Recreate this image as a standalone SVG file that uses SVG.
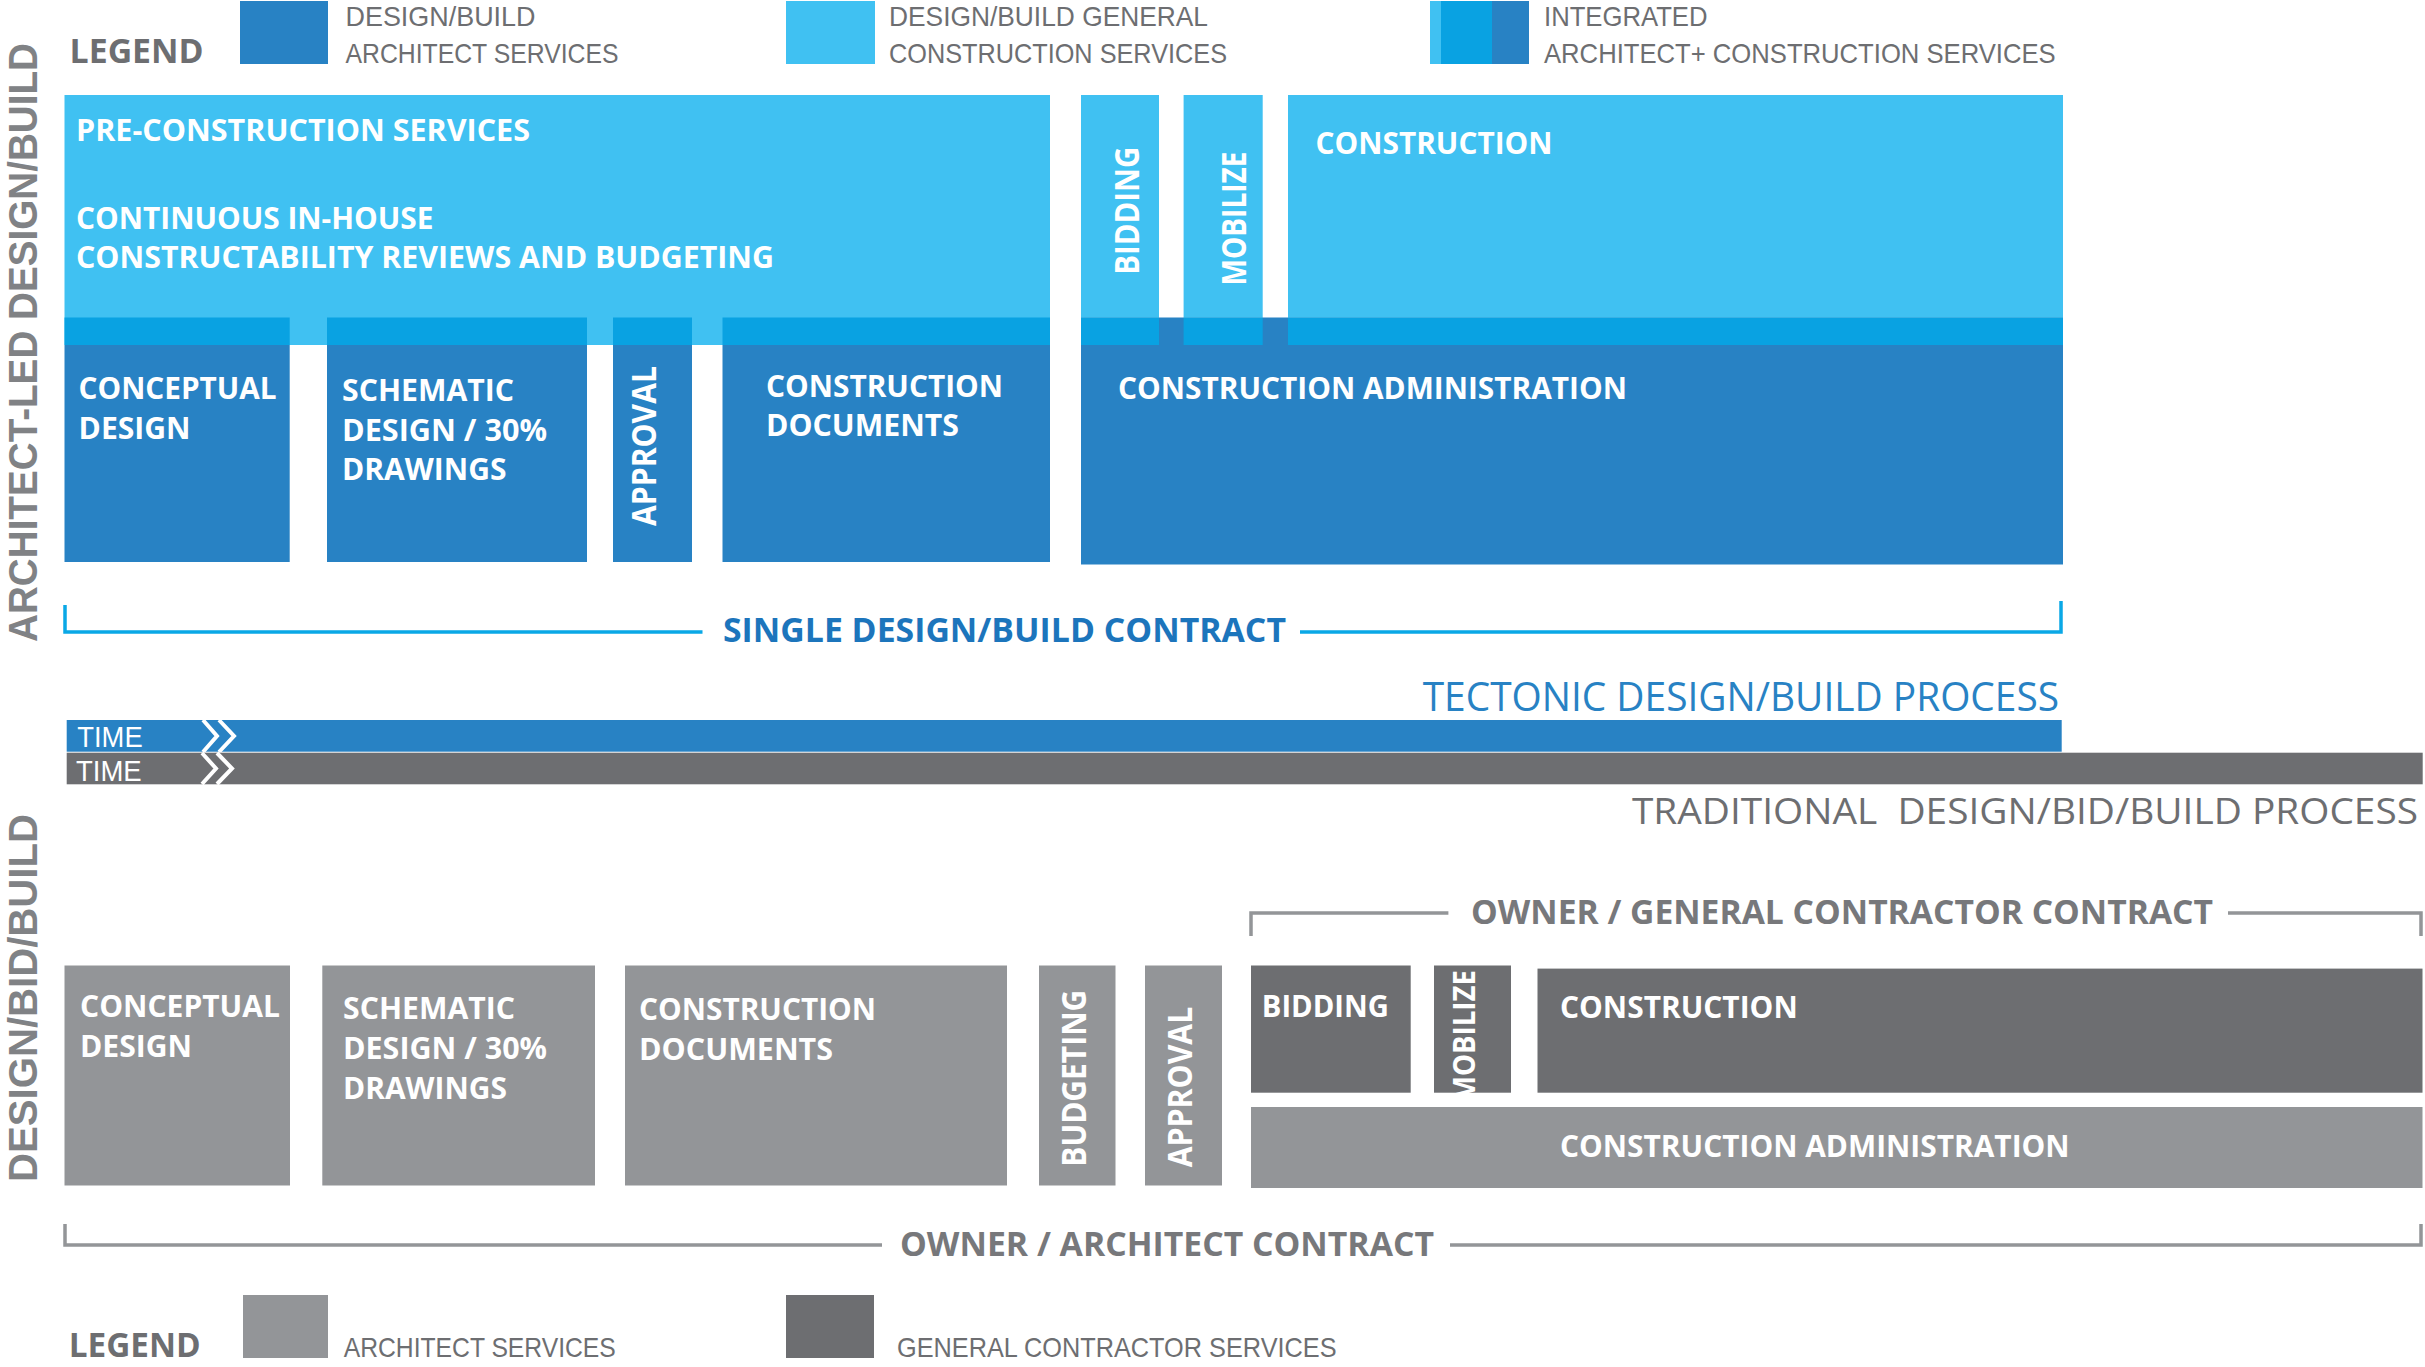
<svg xmlns="http://www.w3.org/2000/svg" width="2425" height="1367" viewBox="0 0 2425 1367">
<style>
text{font-family:"Open Sans","Liberation Sans",Arial,sans-serif}
.w{fill:#fff;font-weight:700;font-size:30.5px}
.v{fill:#fff;font-weight:700;font-size:34px}
.lg{font-family:"Liberation Sans",Arial,sans-serif;fill:#6d6e71;font-weight:400;font-size:28px}
.lgh{fill:#6d6e71;font-weight:700;font-size:33.5px}
.side{font-family:"Liberation Sans",Arial,sans-serif;fill:#808285;font-weight:700;font-size:40px}
.tm{font-family:"Liberation Sans",Arial,sans-serif;fill:#fff;font-weight:400;font-size:30px}
.ct{fill:#77787b;font-weight:700;font-size:34px}
.lt{fill:#40c1f2}.md{fill:#09a2e2}.dk{fill:#2882c4}.ga{fill:#939598}.gc{fill:#6d6e71}
.br{fill:none;stroke-width:3.5}
.chev{fill:none;stroke:#fff;stroke-width:4}
</style>
<defs>
<clipPath id="clipMob"><rect x="1434" y="965" width="77" height="128"/></clipPath>
</defs>

<g id="legend-top">
<text class="lgh" x="69.6" y="63" textLength="134" lengthAdjust="spacingAndGlyphs">LEGEND</text>
<rect class="dk" x="240" y="1" width="88" height="63"/>
<text class="lg" x="345.5" y="26" textLength="190" lengthAdjust="spacingAndGlyphs">DESIGN/BUILD</text>
<text class="lg" x="345.5" y="63.3" textLength="273" lengthAdjust="spacingAndGlyphs">ARCHITECT SERVICES</text>
<rect class="lt" x="786" y="1" width="89" height="63"/>
<text class="lg" x="889" y="26" textLength="319" lengthAdjust="spacingAndGlyphs">DESIGN/BUILD GENERAL</text>
<text class="lg" x="889" y="63.3" textLength="338" lengthAdjust="spacingAndGlyphs">CONSTRUCTION SERVICES</text>
<rect class="lt" x="1430" y="1" width="11" height="63"/>
<rect class="md" x="1441" y="1" width="51" height="63"/>
<rect class="dk" x="1492" y="1" width="37" height="63"/>
<text class="lg" x="1544" y="26" textLength="163.5" lengthAdjust="spacingAndGlyphs">INTEGRATED</text>
<text class="lg" x="1544" y="63.3" textLength="511.7" lengthAdjust="spacingAndGlyphs">ARCHITECT+ CONSTRUCTION SERVICES</text>
</g>

<g id="side-labels">
<text class="side" transform="translate(36.5,642) rotate(-90)" textLength="599" lengthAdjust="spacingAndGlyphs">ARCHITECT-LED DESIGN/BUILD</text>
<text class="side" transform="translate(36.7,1182) rotate(-90)" textLength="368" lengthAdjust="spacingAndGlyphs">DESIGN/BID/BUILD</text>
</g>

<g id="pre-construction">
<rect class="lt" x="64.5" y="95" width="985.5" height="250"/>
<text class="w" x="76" y="141" textLength="454" lengthAdjust="spacingAndGlyphs">PRE-CONSTRUCTION SERVICES</text>
<text class="w" x="76" y="228.5" textLength="357.5" lengthAdjust="spacingAndGlyphs">CONTINUOUS IN-HOUSE</text>
<text class="w" x="76" y="268" textLength="698" lengthAdjust="spacingAndGlyphs">CONSTRUCTABILITY REVIEWS AND BUDGETING</text>
</g>

<g id="db-conceptual-design">
<rect class="md" x="64.5" y="317.5" width="225.2" height="27.5"/>
<rect class="dk" x="64.5" y="345" width="225.2" height="217"/>
<text class="w" x="78.6" y="398.6" textLength="198" lengthAdjust="spacingAndGlyphs">CONCEPTUAL</text>
<text class="w" x="78.6" y="439" textLength="112" lengthAdjust="spacingAndGlyphs">DESIGN</text>
</g>

<g id="db-schematic-design">
<rect class="md" x="327" y="317.5" width="260" height="27.5"/>
<rect class="dk" x="327" y="345" width="260" height="217"/>
<text class="w" x="342" y="400.5" textLength="172" lengthAdjust="spacingAndGlyphs">SCHEMATIC</text>
<text class="w" x="342" y="441" textLength="205" lengthAdjust="spacingAndGlyphs">DESIGN / 30%</text>
<text class="w" x="342" y="480.4" textLength="164.5" lengthAdjust="spacingAndGlyphs">DRAWINGS</text>
</g>

<g id="db-approval">
<rect class="md" x="613" y="317.5" width="79" height="27.5"/>
<rect class="dk" x="613" y="345" width="79" height="217"/>
<text class="v" transform="translate(656,526) rotate(-90)" textLength="160" lengthAdjust="spacingAndGlyphs">APPROVAL</text>
</g>

<g id="db-construction-documents">
<rect class="md" x="722.5" y="317.5" width="327.5" height="27.5"/>
<rect class="dk" x="722.5" y="345" width="327.5" height="217"/>
<text class="w" x="766" y="396.6" textLength="237" lengthAdjust="spacingAndGlyphs">CONSTRUCTION</text>
<text class="w" x="766" y="436" textLength="193" lengthAdjust="spacingAndGlyphs">DOCUMENTS</text>
</g>

<g id="db-construction-administration">
<rect class="dk" x="1081" y="317.5" width="982" height="247"/>
<text class="w" x="1118" y="398.6" textLength="509" lengthAdjust="spacingAndGlyphs">CONSTRUCTION ADMINISTRATION</text>
</g>

<g id="db-bidding">
<rect class="lt" x="1081" y="95" width="78" height="222.5"/>
<rect class="md" x="1081" y="317.5" width="78" height="27.5"/>
<text class="v" transform="translate(1139,274.8) rotate(-90)" textLength="128" lengthAdjust="spacingAndGlyphs">BIDDING</text>
</g>

<g id="db-mobilize">
<rect class="lt" x="1183.6" y="95" width="79.1" height="222.5"/>
<rect class="md" x="1183.6" y="317.5" width="79.1" height="27.5"/>
<text class="v" transform="translate(1245.5,285.5) rotate(-90)" textLength="134" lengthAdjust="spacingAndGlyphs">MOBILIZE</text>
</g>

<g id="db-construction">
<rect class="lt" x="1288" y="95" width="775" height="222.5"/>
<rect class="md" x="1288" y="317.5" width="775" height="27.5"/>
<text class="w" x="1315.5" y="154" textLength="237" lengthAdjust="spacingAndGlyphs">CONSTRUCTION</text>
</g>

<g id="connectors">
<path class="br" stroke="#0aa8e6" d="M65,605 V632 H702.5 M1300,632 H2061 V601"/>
<path class="br" stroke="#939598" d="M1251,936 V913 H1448.4 M2228,913 H2421 V936"/>
<path class="br" stroke="#939598" d="M65,1224 V1245 H882 M1450,1245 H2421 V1224"/>
</g>

<g id="single-contract-label">
<text x="723" y="642" style="fill:#1c75bc;font-weight:700;font-size:34px" textLength="563" lengthAdjust="spacingAndGlyphs">SINGLE DESIGN/BUILD CONTRACT</text>
</g>

<g id="tectonic-time">
<text x="1422.7" y="711" style="fill:#2882c4;font-weight:400;font-size:40px" textLength="636.3" lengthAdjust="spacingAndGlyphs">TECTONIC DESIGN/BUILD PROCESS</text>
<rect class="dk" x="66.7" y="720" width="1995" height="31.7"/>
<text class="tm" x="77.3" y="746.7" textLength="65.4" lengthAdjust="spacingAndGlyphs">TIME</text>
<path class="chev" d="M203,720 L217,736 L203,752 M219,720 L234,736 L219,752"/>
</g>

<g id="traditional-time">
<rect class="gc" x="66.7" y="752.7" width="2356" height="31.6"/>
<text class="tm" x="76" y="781" textLength="65.7" lengthAdjust="spacingAndGlyphs">TIME</text>
<path class="chev" d="M202,753 L216,768.5 L202,784 M217,753 L232,768.5 L217,784"/>
<text x="1632" y="823.5" xml:space="preserve" style="fill:#6d6e71;font-weight:400;font-size:37px" textLength="786" lengthAdjust="spacingAndGlyphs">TRADITIONAL  DESIGN/BID/BUILD PROCESS</text>
</g>

<g id="gc-contract-label">
<text class="ct" x="1471" y="924" textLength="742" lengthAdjust="spacingAndGlyphs">OWNER / GENERAL CONTRACTOR CONTRACT</text>
</g>

<g id="dbb-conceptual-design">
<rect class="ga" x="64.5" y="965.5" width="225.5" height="220"/>
<text class="w" x="80" y="1017.3" textLength="200" lengthAdjust="spacingAndGlyphs">CONCEPTUAL</text>
<text class="w" x="80" y="1057.3" textLength="112" lengthAdjust="spacingAndGlyphs">DESIGN</text>
</g>

<g id="dbb-schematic-design">
<rect class="ga" x="322.3" y="965.5" width="272.7" height="220"/>
<text class="w" x="343" y="1019.3" textLength="172" lengthAdjust="spacingAndGlyphs">SCHEMATIC</text>
<text class="w" x="343" y="1059" textLength="204" lengthAdjust="spacingAndGlyphs">DESIGN / 30%</text>
<text class="w" x="343" y="1099" textLength="164" lengthAdjust="spacingAndGlyphs">DRAWINGS</text>
</g>

<g id="dbb-construction-documents">
<rect class="ga" x="625" y="965.5" width="382" height="220"/>
<text class="w" x="639" y="1019.6" textLength="237" lengthAdjust="spacingAndGlyphs">CONSTRUCTION</text>
<text class="w" x="639" y="1060" textLength="194" lengthAdjust="spacingAndGlyphs">DOCUMENTS</text>
</g>

<g id="dbb-budgeting">
<rect class="ga" x="1039" y="965.5" width="76.5" height="220"/>
<text class="v" transform="translate(1085.7,1166.7) rotate(-90)" textLength="177" lengthAdjust="spacingAndGlyphs">BUDGETING</text>
</g>

<g id="dbb-approval">
<rect class="ga" x="1145" y="965.5" width="77" height="220"/>
<text class="v" transform="translate(1192,1167.3) rotate(-90)" textLength="160.6" lengthAdjust="spacingAndGlyphs">APPROVAL</text>
</g>

<g id="dbb-bidding">
<rect class="gc" x="1251" y="965.5" width="159.7" height="127.2"/>
<text class="w" x="1261.8" y="1017.3" textLength="127" lengthAdjust="spacingAndGlyphs">BIDDING</text>
</g>

<g id="dbb-mobilize">
<rect class="gc" x="1434" y="965.5" width="77" height="127.2"/>
<g clip-path="url(#clipMob)">
<text class="v" style="font-size:31px" transform="translate(1475,1102) rotate(-90)" textLength="132" lengthAdjust="spacingAndGlyphs">MOBILIZE</text>
</g>
</g>

<g id="dbb-construction">
<rect class="gc" x="1537.5" y="968.6" width="885" height="124.1"/>
<text class="w" x="1560" y="1018" textLength="237.7" lengthAdjust="spacingAndGlyphs">CONSTRUCTION</text>
</g>

<g id="dbb-construction-administration">
<rect class="ga" x="1251" y="1107" width="1171.5" height="81"/>
<text class="w" x="1560" y="1157" textLength="509.6" lengthAdjust="spacingAndGlyphs">CONSTRUCTION ADMINISTRATION</text>
</g>

<g id="architect-contract-label">
<text class="ct" x="900" y="1256" textLength="534" lengthAdjust="spacingAndGlyphs">OWNER / ARCHITECT CONTRACT</text>
</g>

<g id="legend-bottom">
<text class="lgh" x="68.75" y="1357" textLength="132" lengthAdjust="spacingAndGlyphs">LEGEND</text>
<rect class="ga" x="243" y="1295" width="85" height="63"/>
<text class="lg" x="343.75" y="1357" textLength="272" lengthAdjust="spacingAndGlyphs">ARCHITECT SERVICES</text>
<rect class="gc" x="786" y="1295" width="88" height="63"/>
<text class="lg" x="897" y="1357" textLength="439.6" lengthAdjust="spacingAndGlyphs">GENERAL CONTRACTOR SERVICES</text>
</g>
</svg>
